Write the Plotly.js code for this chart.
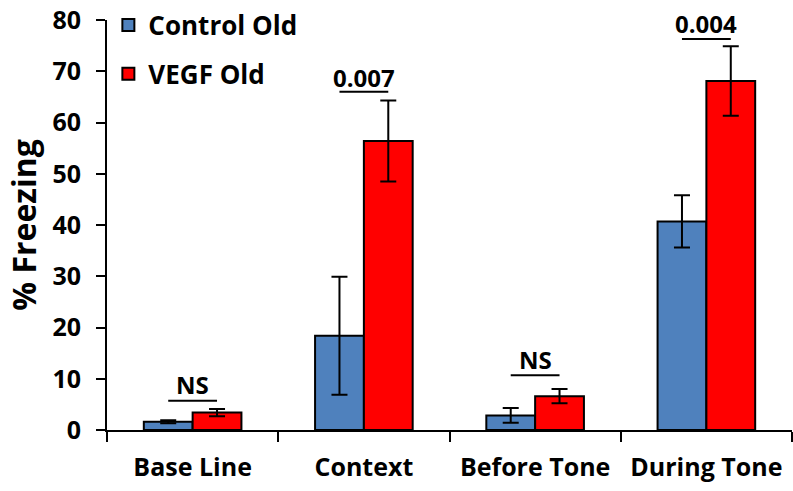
<!DOCTYPE html>
<html>
<head>
<meta charset="utf-8">
<script src="https://cdn.plot.ly/plotly-3.0.1.min.js"></script>
<style>html,body{margin:0;padding:0;background:#fff}#chart{width:793px;height:491px}</style>
</head>
<body>
<div id="chart"></div>
<script>
// ---- data ----
const categories = ['Base Line', 'Context', 'Before Tone', 'During Tone'];
const controlName = 'Control Old';
const controlValues = [1.6, 18.4, 2.85, 40.7];
const controlErrors = [0.3, 11.5, 1.45, 5.1];
const vegfName = 'VEGF Old';
const vegfValues = [3.4, 56.4, 6.6, 68.1];
const vegfErrors = [0.7, 7.9, 1.4, 6.8];
const sigLabels = ['NS', '0.007', 'NS', '0.004'];
const sigTextY = [8.9, 68.7, 13.7, 79.4];
const sigLineY = [5.7, 66.0, 10.7, 76.3];
const yTickVals = [0, 10, 20, 30, 40, 50, 60, 70, 80];

// ---- styling ----
const FONT = 'Open Sans, Liberation Sans, sans-serif';
const BARGAP = 0.43;
const barW = (1 - BARGAP) / 2;

function barTrace(name, vals, errs, color, group) {
  return {
    type: 'bar', name: name, x: categories, y: vals,
    legendgroup: group,
    marker: {color: color, line: {color: '#000', width: 2}},
    error_y: {type: 'data', array: errs, visible: true, color: '#000', thickness: 2, width: 8}
  };
}

const data = [
  barTrace(controlName, controlValues, controlErrors, '#4F81BD', 'a'),
  barTrace(vegfName, vegfValues, vegfErrors, '#FF0000', 'b')
];

const shapes = [];
const annotations = [];
sigLabels.forEach((lab, i) => {
  shapes.push({type: 'line', xref: 'x', yref: 'y',
    x0: i - barW / 2, x1: i + barW / 2, y0: sigLineY[i], y1: sigLineY[i],
    line: {color: '#000', width: 2}});
  annotations.push({xref: 'x', yref: 'y', x: i, y: sigTextY[i], text: lab,
    showarrow: false, yanchor: 'middle', xanchor: 'center',
    font: {family: FONT, size: 24, color: '#000', weight: 'bold'}});
});

const layout = {
  width: 793, height: 491,
  margin: {l: 107, r: 1, t: 20, b: 61},
  paper_bgcolor: '#fff', plot_bgcolor: '#fff',
  barmode: 'group', bargap: BARGAP, bargroupgap: 0,
  font: {family: FONT, color: '#000'},
  showlegend: true,
  legend: {x: 0.002, y: 1.045, xanchor: 'left', yanchor: 'top',
    font: {family: FONT, size: 26, color: '#000', weight: 'bold'},
    traceorder: 'grouped', tracegroupgap: 12, bgcolor: 'rgba(0,0,0,0)'},
  xaxis: {
    type: 'category', range: [-0.5, 3.5],
    showline: true, linecolor: '#000', linewidth: 2,
    ticks: 'outside', tickson: 'boundaries', ticklen: 10, tickwidth: 2, tickcolor: '#000',
    ticklabelstandoff: 14,
    tickfont: {family: FONT, size: 25, color: '#000', weight: 'bold'},
    showgrid: false, zeroline: false
  },
  yaxis: {
    range: [0, 80], tickvals: yTickVals, ticktext: yTickVals.map(String),
    showline: true, linecolor: '#000', linewidth: 2,
    ticks: 'outside', ticklen: 9, tickwidth: 2, tickcolor: '#000',
    ticklabelstandoff: 10,
    tickfont: {family: FONT, size: 25, color: '#000', weight: 'bold'},
    showgrid: false, zeroline: false,
    title: {text: '% Freezing', standoff: 6,
      font: {family: FONT, size: 32, color: '#000', weight: 'bold'}}
  },
  shapes: shapes,
  annotations: annotations
};

Plotly.newPlot('chart', data, layout, {displayModeBar: false, staticPlot: true});
</script>
</body>
</html>
